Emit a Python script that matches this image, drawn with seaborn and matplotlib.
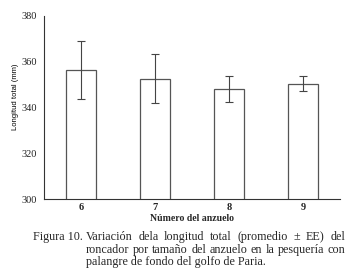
import matplotlib
matplotlib.use("Agg")
import matplotlib.pyplot as plt
import seaborn as sns
import numpy as np

hooks = ["6", "7", "8", "9"]
mean_len = [356.4, 352.6, 348.0, 350.4]
se_len = [12.7, 10.8, 5.8, 3.2]
fig_label = "Figura 10."
caption = [
    "Variación dela longitud total (promedio ± EE) del",
    "roncador por tamaño del anzuelo en la pesquería con",
    "palangre de fondo del golfo de Paria.",
]

sns.set_style("white")
plt.rcParams['font.family'] = ['Liberation Serif', 'DejaVu Serif']

fig = plt.figure(figsize=(3.54, 2.75), dpi=100)
ax = fig.add_axes([0.124, 0.276, 0.836, 0.666])

sns.barplot(x=hooks, y=mean_len, color="white", edgecolor="#555555",
            linewidth=0.9, width=0.4, ax=ax)
ax.errorbar(np.arange(len(hooks)), mean_len, yerr=se_len, fmt="none",
            ecolor="#444444", elinewidth=0.8, capsize=3, capthick=0.8)

ax.set_ylim(300, 380)
ax.set_xlim(-0.5, 3.5)
ax.set_yticks([300, 320, 340, 360, 380])
ax.set_xticks([0.5, 1.5, 2.5], minor=True)
ax.tick_params(axis="x", which="major", length=0, pad=3)
ax.tick_params(axis="x", which="minor", length=3, width=0.6, color="#333333")
ax.tick_params(axis="y", length=3, width=0.6, color="#333333", pad=2)
for lab in ax.get_xticklabels():
    lab.set_fontweight("bold")
    lab.set_fontsize(7.5)
for lab in ax.get_yticklabels():
    lab.set_fontsize(7.5)
    lab.set_color("#222222")
sns.despine(ax=ax)
for s in ["left", "bottom"]:
    ax.spines[s].set_color("#333333")
    ax.spines[s].set_linewidth(0.8)

ax.set_ylabel("Longitud total (mm)", fontsize=5.5, color="black",
              family=["Liberation Sans", "DejaVu Sans"], labelpad=4)
ax.yaxis.set_label_coords(-0.085, 0.557)
ax.set_xlabel("Número del anzuelo", fontsize=7, fontweight="bold", labelpad=1)

# caption with hanging indent, first two lines justified
fs = 8.7
fig.text(83 / 354, 1 - 237 / 275, fig_label, fontsize=fs, va="center", ha="right")
fig.canvas.draw()
rend = fig.canvas.get_renderer()
for txt, ypx, justify in zip(caption, [237, 250, 262], [True, True, False]):
    yf = 1 - ypx / 275
    if not justify:
        fig.text(86 / 354, yf, txt, fontsize=fs, va="center")
        continue
    words = txt.split(" ")
    arts = [fig.text(0, yf, w, fontsize=fs, va="center") for w in words]
    widths = [a.get_window_extent(rend).width for a in arts]
    gap = (345 - 86 - sum(widths)) / (len(words) - 1)
    x = 86
    for a, w in zip(arts, widths):
        a.set_x(x / 354)
        x += w + gap

fig.savefig("out.png", dpi=100)
